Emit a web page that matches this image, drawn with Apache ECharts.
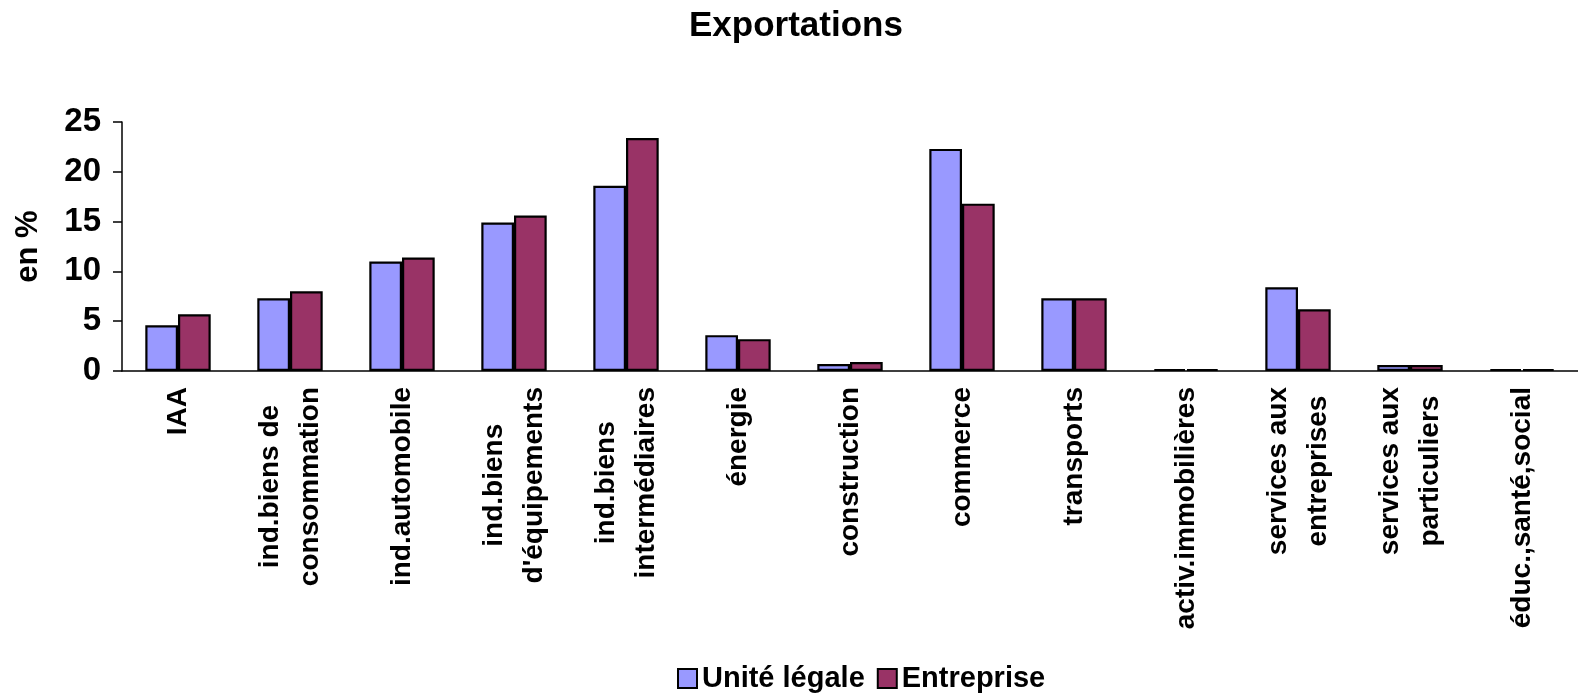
<!DOCTYPE html>
<html>
<head>
<meta charset="utf-8">
<script src="https://cdn.jsdelivr.net/npm/echarts@6/dist/echarts.min.js"></script>
<style>
  html, body { margin: 0; padding: 0; background: #fff; overflow: hidden; }
  #main { width: 1578px; height: 700px; }
</style>
</head>
<body>
<div id="main"></div>
<script>
// categories (line breaks as in the picture)
const categories = [
  'IAA',
  'ind.biens de\nconsommation',
  'ind.automobile',
  'ind.biens\nd\'équipements',
  'ind.biens\nintermédiaires',
  'énergie',
  'construction',
  'commerce',
  'transports',
  'activ.immobilières',
  'services aux\nentreprises',
  'services aux\nparticuliers',
  'éduc.,santé,social'
];
const uniteLegale = [4.6, 7.3, 11.0, 14.9, 18.6, 3.6, 0.7, 22.3, 7.3, 0.2, 8.4, 0.6, 0.2];
const entreprise  = [5.7, 8.0, 11.4, 15.6, 23.4, 3.2, 0.9, 16.8, 7.3, 0.2, 6.2, 0.6, 0.2];
const seriesNames = ['Unité légale', 'Entreprise'];

const font = '"Liberation Sans", Arial, sans-serif';

const chart = echarts.init(document.getElementById('main'));

// les lignes de chaque étiquette sont centrées entre elles
const labelFormatter = (v) => v.split('\n').map(l => '{c|' + l + '}').join('\n');

const barStyle = (color) => ({
  color: color,
  borderColor: '#000',
  borderWidth: 2.2
});

const option = {
  animation: false,
  title: {
    text: 'Exportations',
    left: 684,
    top: 4,
    textStyle: { fontFamily: font, fontSize: 35, fontWeight: 'bold', color: '#000' }
  },
  legend: {
    data: seriesNames,
    bottom: 2,
    left: 672,
    icon: 'rect',
    itemWidth: 19,
    itemHeight: 19,
    itemGap: 12,
    textStyle: { fontFamily: font, fontSize: 29, fontWeight: 'bold', color: '#000', padding: [0, 0, 0, 0] }
  },
  grid: {
    left: 122,
    right: -15,
    top: 122,
    bottom: 329
  },
  xAxis: {
    type: 'category',
    data: categories,
    axisLine: { lineStyle: { color: '#000', width: 1.5 } },
    axisTick: { show: false },
    axisLabel: {
      interval: 0,
      rotate: 90,
      margin: 16,
      formatter: labelFormatter,
      rich: {
        c: { fontFamily: font, fontSize: 28, fontWeight: 'bold', color: '#000', lineHeight: 40, align: 'center' }
      }
    }
  },
  yAxis: {
    type: 'value',
    min: 0,
    max: 25,
    interval: 5,
    name: 'en %',
    nameLocation: 'middle',
    nameGap: 78,
    nameRotate: 90,
    nameTextStyle: { fontFamily: font, fontSize: 31, fontWeight: 'bold', color: '#000' },
    axisLine: { show: true, lineStyle: { color: '#000', width: 1.5 } },
    axisTick: { show: true, inside: false, length: 9, lineStyle: { color: '#000', width: 1.5 } },
    splitLine: { show: false },
    axisLabel: {
      margin: 21,
      fontFamily: font,
      fontSize: 33,
      fontWeight: 'bold',
      color: '#000'
    }
  },
  series: [
    {
      name: seriesNames[0],
      type: 'bar',
      data: uniteLegale,
      barGap: '0%',
      barCategoryGap: '41.6%',
      itemStyle: barStyle('#9999FF')
    },
    {
      name: seriesNames[1],
      type: 'bar',
      data: entreprise,
      barGap: '0%',
      barCategoryGap: '41.6%',
      itemStyle: barStyle('#993366')
    }
  ]
};

chart.setOption(option);
</script>
</body>
</html>
